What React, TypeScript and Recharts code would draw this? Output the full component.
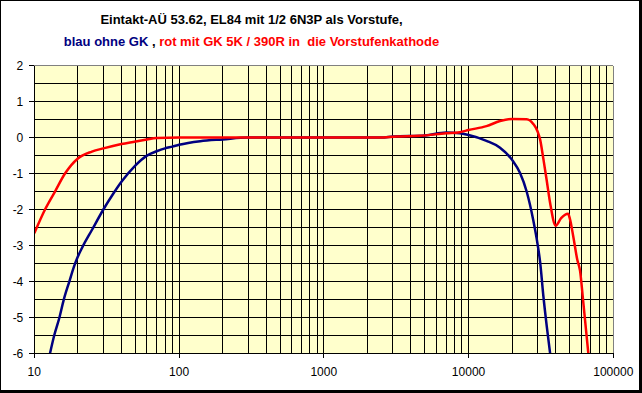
import React from 'react';
import { LineChart, Line, XAxis, YAxis, CartesianGrid, ReferenceLine } from 'recharts';

// frequency (Hz) / level (dB)
const blueFreq = [12.6, 13.75, 14.9, 16.0, 17.5, 18.8, 20, 21.6, 25, 30, 35, 40, 50, 60, 70, 80, 90, 100, 140, 200, 300, 1000, 2500, 3000, 5000, 7000, 8700, 10000, 13300, 16500, 20000, 22650, 25200, 28000, 30000, 31200, 32900, 34700, 36600];
const blueGain = [-6.15, -5.49, -5.01, -4.5, -3.99, -3.59, -3.31, -3.03, -2.57, -2.0, -1.57, -1.23, -0.77, -0.5, -0.38, -0.3, -0.25, -0.2, -0.1, -0.05, 0, 0, 0, 0.03, 0.06, 0.14, 0.12, 0.07, -0.09, -0.28, -0.62, -0.98, -1.5, -2.3, -2.97, -3.45, -4.42, -5.25, -6.0];

const redFreq = [10, 11.86, 13.9, 16.3, 20, 25, 30, 40, 50, 60, 70, 100, 2400, 3200, 4600, 7000, 8700, 10000, 13300, 16500, 20000, 25200, 28000, 30000, 31200, 32900, 34700, 36600, 40000, 43600, 48700, 50000, 52900, 56400, 58900, 62100, 67200];
const redGain = [-2.66, -2.0, -1.5, -1.0, -0.58, -0.39, -0.3, -0.18, -0.11, -0.05, -0.01, 0, 0, 0.03, 0.05, 0.12, 0.15, 0.21, 0.32, 0.46, 0.52, 0.51, 0.38, 0.17, -0.05, -0.6, -1.2, -1.82, -2.45, -2.24, -2.12, -2.24, -2.75, -3.4, -3.7, -4.6, -6.0];

const xTicks = [10, 100, 1000, 10000, 100000];
const yTicks = [-6, -5, -4, -3, -2, -1, 0, 1, 2];
const xGrid = [20, 30, 40, 50, 60, 70, 80, 90, 100, 200, 300, 400, 500, 600, 700, 800, 900, 1000, 2000, 3000, 4000, 5000, 6000, 7000, 8000, 9000, 10000, 20000, 30000, 40000, 50000, 60000, 70000, 80000, 90000];
const yGrid = [-5.5, -5, -4.5, -4, -3.5, -3, -2.5, -2, -1.5, -1, -0.5, 0, 0.5, 1, 1.5];

const blue = blueFreq.map((f, i) => ({ f, v: blueGain[i] }));
const red = redFreq.map((f, i) => ({ f, v: redGain[i] }));

const font = 'Arial, "Liberation Sans", sans-serif';
const tickStyle = { fill: '#000', fontSize: 12, fontFamily: font };

export default function App() {
  return (
    <div
      style={{
        position: 'absolute', left: 0, top: 0, width: 642, height: 393, boxSizing: 'border-box',
        borderTop: '1px solid #000', borderLeft: '1px solid #000',
        borderRight: '3px solid #000', borderBottom: '3px solid #000', background: '#fff',
      }}
    >
      <div
        style={{
          position: 'absolute', left: -1, top: 8, width: 503, textAlign: 'center',
          fontFamily: font, fontWeight: 'bold', fontSize: 13, lineHeight: '22px', whiteSpace: 'pre',
        }}
      >
        <div>Eintakt-AÜ 53.62, EL84 mit 1/2 6N3P als Vorstufe,</div>
        <div>
          <span style={{ color: '#000080' }}>blau ohne GK</span>
          <span> , </span>
          <span style={{ color: '#FF0000' }}>rot mit GK 5K / 390R in  die Vorstufenkathode</span>
        </div>
      </div>
      <div style={{ position: 'absolute', left: -1, top: -1 }}>
        <LineChart width={642} height={393} margin={{ top: 65.7, right: 28.7, bottom: 9.7, left: 0 }}>
          <CartesianGrid fill="#FFFFCC" horizontal={false} vertical={false} stroke="none" />
          {xGrid.map((x) => (
            <ReferenceLine key={'x' + x} x={x} stroke="#000" strokeWidth={1} shapeRendering="crispEdges" />
          ))}
          {yGrid.map((y) => (
            <ReferenceLine key={'y' + y} y={y} stroke="#000" strokeWidth={1} shapeRendering="crispEdges" />
          ))}
          <ReferenceLine y={2} stroke="#808080" strokeWidth={1} shapeRendering="crispEdges" />
          <ReferenceLine x={100000} stroke="#808080" strokeWidth={1} shapeRendering="crispEdges" />
          <XAxis
            dataKey="f"
            type="number"
            scale="log"
            domain={[10, 100000]}
            ticks={xTicks}
            interval={0}
            allowDataOverflow
            height={30}
            tickSize={5}
            tickMargin={9}
            axisLine={{ stroke: '#000', shapeRendering: 'crispEdges' }}
            tickLine={{ stroke: '#000', shapeRendering: 'crispEdges' }}
            tick={tickStyle}
          />
          <YAxis
            type="number"
            domain={[-6, 2]}
            ticks={yTicks}
            interval={0}
            allowDataOverflow
            width={34.3}
            tickSize={5}
            tickMargin={6}
            axisLine={{ stroke: '#000', shapeRendering: 'crispEdges' }}
            tickLine={{ stroke: '#000', shapeRendering: 'crispEdges' }}
            tick={tickStyle}
          />
          <Line data={blue} dataKey="v" type="monotone" stroke="#000080" strokeWidth={2.5} dot={false} isAnimationActive={false} />
          <Line data={red} dataKey="v" type="monotone" stroke="#FF0000" strokeWidth={2.5} dot={false} isAnimationActive={false} />
        </LineChart>
      </div>
    </div>
  );
}
